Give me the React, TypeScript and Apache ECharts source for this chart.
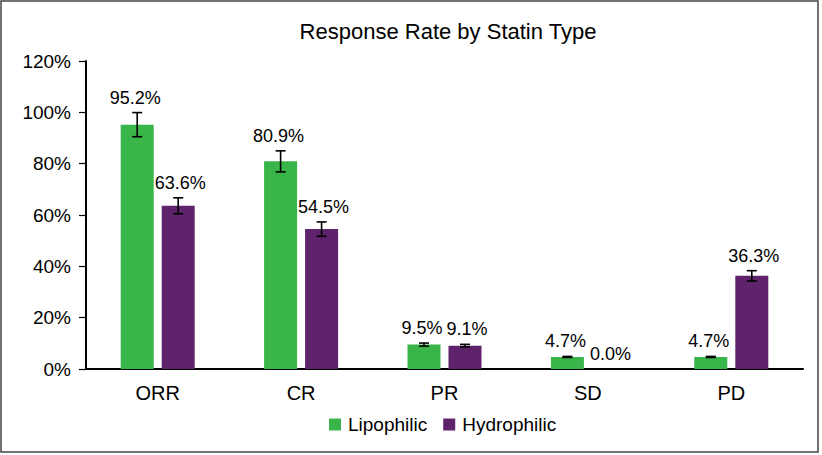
import React, { useEffect, useRef } from "react";
import * as echarts from "echarts";

const categories = ["ORR", "CR", "PR", "SD", "PD"];
const lipophilic = [95.2, 80.9, 9.5, 4.7, 4.7];
const hydrophilic = [63.6, 54.5, 9.1, 0.0, 36.3];
const lipophilicErr = [4.7, 4.1, 0.6, 0.2, 0.2];
const hydrophilicErr = [3.1, 2.8, 0.5, 0, 2.0];
const seriesNames = ["Lipophilic", "Hydrophilic"];

const GREEN = "#3AB54A";
const PURPLE = "#5E236B";
const FONT = "'Liberation Sans', Arial, Helvetica, sans-serif";
const BAR_W = 33;
const BAR_GAP = 8;

function errorSeries(name: string, values: number[], errs: number[], offset: number, labelNudge: number) {
  return {
    type: "custom",
    name: name + " err",
    z: 5,
    silent: true,
    data: values.map((v, i) => [i, v, errs[i]]),
    renderItem: (params: any, api: any) => {
      const idx = api.value(0);
      const val = api.value(1);
      const err = api.value(2);
      const c = api.coord([idx, val]);
      const x = c[0] + offset;
      const top = api.coord([idx, val + err])[1];
      const bot = api.coord([idx, val - err])[1];
      const children: any[] = [];
      if (err > 0) {
        const st = { stroke: "#000", lineWidth: 1.6 };
        children.push(
          { type: "line", shape: { x1: x, y1: top, x2: x, y2: bot }, style: st },
          { type: "line", shape: { x1: x - 5, y1: top, x2: x + 5, y2: top }, style: st },
          { type: "line", shape: { x1: x - 5, y1: bot, x2: x + 5, y2: bot }, style: st }
        );
      }
      children.push({
        type: "text",
        x: x + labelNudge,
        y: top - 6,
        style: {
          text: val.toFixed(1) + "%",
          fill: "#000",
          font: `18px ${FONT}`,
          textAlign: "center",
          textVerticalAlign: "bottom",
        },
      });
      return { type: "group", children };
    },
  };
}

export default function App() {
  const ref = useRef<HTMLDivElement>(null);
  useEffect(() => {
    if (!ref.current) return;
    const chart = echarts.init(ref.current, undefined, { renderer: "svg" });
    const off = (BAR_W + BAR_GAP) / 2;
    chart.setOption({
      animation: false,
      backgroundColor: "#fff",
      textStyle: { fontFamily: FONT, color: "#000" },
      title: {
        text: "Response Rate by Statin Type",
        left: 443,
        textAlign: "center",
        top: 15,
        textStyle: { fontSize: 22, fontWeight: "normal", color: "#000", fontFamily: FONT },
      },
      legend: {
        data: seriesNames,
        left: 329,
        top: 415,
        padding: 0,
        itemWidth: 12,
        itemHeight: 12,
        itemGap: 16,
        icon: "rect",
        textStyle: { fontSize: 19, color: "#000", fontFamily: FONT, padding: [0, 0, 0, 2] },
      },
      grid: { left: 86, right: 19, top: 61, bottom: 86, containLabel: false },
      xAxis: {
        type: "category",
        data: categories,
        axisLine: { lineStyle: { color: "#000", width: 2 } },
        axisTick: { alignWithLabel: true, length: 6, lineStyle: { color: "#000", width: 1.5 } },
        axisLabel: { fontSize: 20, color: "#000", margin: 14, fontFamily: FONT },
      },
      yAxis: {
        type: "value",
        min: 0,
        max: 120,
        interval: 20,
        axisLine: { show: true, lineStyle: { color: "#000", width: 2 } },
        axisTick: { show: true, length: 7, lineStyle: { color: "#000", width: 1.2 } },
        splitLine: { show: false },
        axisLabel: { formatter: "{value}%", fontSize: 19, color: "#000", margin: 15, fontFamily: FONT },
      },
      graphic: [
        {
          type: "rect",
          shape: { x: 1, y: 1, width: 817, height: 451 },
          style: { fill: "none", stroke: "#444", lineWidth: 1.5 },
          silent: true,
        },
      ],
      series: [
        {
          type: "bar",
          name: seriesNames[0],
          data: lipophilic,
          barWidth: BAR_W,
          barGap: `${(BAR_GAP / BAR_W) * 100}%`,
          itemStyle: { color: GREEN },
        },
        {
          type: "bar",
          name: seriesNames[1],
          data: hydrophilic,
          barWidth: BAR_W,
          itemStyle: { color: PURPLE },
        },
        errorSeries(seriesNames[0], lipophilic, lipophilicErr, -off, -2),
        errorSeries(seriesNames[1], hydrophilic, hydrophilicErr, off, 2),
      ],
    });
    return () => chart.dispose();
  }, []);
  return (
    <div
      ref={ref}
      style={{ position: "absolute", left: 0, top: 0, width: 822, height: 455 }}
    />
  );
}
